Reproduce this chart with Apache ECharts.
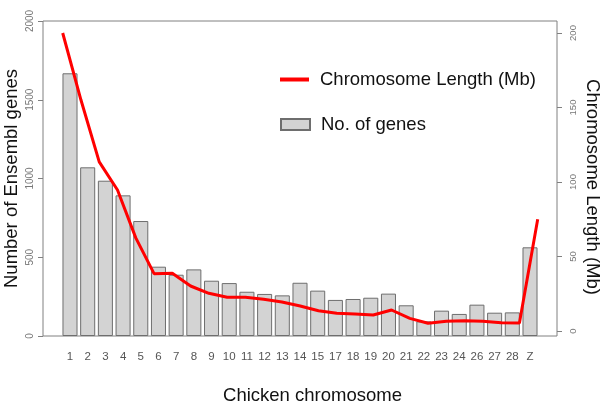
<!DOCTYPE html>
<html>
<head>
<meta charset="utf-8">
<script src="https://cdn.jsdelivr.net/npm/echarts@6/dist/echarts.min.js"></script>
<style>
html,body{margin:0;padding:0;background:#fff;}
#c{width:600px;height:407px;}
</style>
</head>
<body>
<div id="c"></div>
<script>
var categories = ['1','2','3','4','5','6','7','8','9','10','11','12','13','14','15','17','18','19','20','21','22','23','24','26','27','28','Z'];
var geneCounts = [1668,1071,986,893,730,440,389,423,351,336,281,267,258,338,288,229,235,243,269,195,93,161,140,199,148,150,563];
var chromLengthMb = [200,155,113.5,94.6,62.5,38.5,38.7,30.2,25.3,22.6,22.6,21.3,19.5,16.8,13.6,11.9,11.4,10.7,14.1,8.5,5.2,6.5,6.9,6.5,5.6,5.4,75];
var leftTicks = [0,500,1000,1500,2000];
var rightTicks = [0,50,100,150,200];

var FONT = 'Liberation Sans, Arial, sans-serif';
var NARROW = 'Liberation Sans Narrow, Arial Narrow, Liberation Sans, sans-serif';
var chart = echarts.init(document.getElementById('c'), null, {renderer:'canvas'});
var plain = function (v) { return String(v); };
var option = {
  backgroundColor:'#fff',
  animation:false,
  textStyle:{fontFamily:FONT},
  grid:[
    {left:61.15, right:61.15, top:21, bottom:71, outerBoundsMode:'none', containLabel:false},
    {left:62.7, right:62.3, top:33, bottom:76, outerBoundsMode:'none', containLabel:false},
    {left:43, right:43, top:21, bottom:71, outerBoundsMode:'none', containLabel:false, show:true, borderColor:'#808080', borderWidth:1, backgroundColor:'transparent'}
  ],
  legend:[
    {data:[{name:'Chromosome Length (Mb)', icon:'rect', itemStyle:{color:'#ff0000'}}],
     left:275, top:65, itemWidth:29, itemHeight:4, selectedMode:false,
     textStyle:{fontSize:18.5, color:'#111', fontFamily:FONT, padding:[0,0,0,6]}},
    {data:[{name:'No. of genes', icon:'rect'}],
     left:275, top:110, itemWidth:29, itemHeight:11, selectedMode:false,
     textStyle:{fontSize:18.5, color:'#111', fontFamily:FONT, padding:[0,0,0,6]}}
  ],
  xAxis:[
    {type:'category', gridIndex:0, data:categories,
     axisLine:{show:false}, axisTick:{show:false},
     axisLabel:{color:'#555', fontSize:11.5, margin:15, interval:0, fontFamily:NARROW},
     name:'Chicken chromosome', nameLocation:'middle', nameGap:50, nameMoveOverlap:false,
     nameTextStyle:{fontSize:18.5, color:'#111', fontFamily:FONT, padding:[0,0,0,25]}},
    {type:'category', gridIndex:1, data:categories, boundaryGap:false, show:false},
    {type:'value', gridIndex:2, show:false}
  ],
  yAxis:[
    {type:'value', gridIndex:0, min:leftTicks[0], max:leftTicks[leftTicks.length-1], interval:leftTicks[1]-leftTicks[0],
     position:'left', offset:18.15,
     axisLine:{show:false}, axisTick:{show:true, length:5, lineStyle:{color:'#808080'}},
     splitLine:{show:false},
     axisLabel:{rotate:90, color:'#777', fontSize:10, margin:8, fontFamily:FONT, formatter:plain},
     name:'Number of Ensembl genes', nameLocation:'middle', nameGap:22, nameRotate:90, nameMoveOverlap:false,
     nameTextStyle:{fontSize:18.5, color:'#111', fontFamily:FONT}},
    {type:'value', gridIndex:1, min:rightTicks[0], max:rightTicks[rightTicks.length-1], interval:rightTicks[1]-rightTicks[0],
     position:'right', offset:19.3,
     axisLine:{show:false}, axisTick:{show:true, length:5, lineStyle:{color:'#808080'}},
     splitLine:{show:false},
     axisLabel:{rotate:90, color:'#777', fontSize:9.5, margin:11, fontFamily:FONT, formatter:plain},
     name:'Chromosome Length (Mb)', nameLocation:'middle', nameGap:26, nameRotate:-90, nameMoveOverlap:false,
     nameTextStyle:{fontSize:18.5, color:'#111', fontFamily:FONT, padding:[0,0,0,10]}},
    {type:'value', gridIndex:2, show:false}
  ],
  series:[
    {name:'No. of genes', type:'bar', xAxisIndex:0, yAxisIndex:0, data:geneCounts,
     barCategoryGap:'15%',
     itemStyle:{color:'#d3d3d3', borderColor:'#6e6e6e', borderWidth:1}},
    {name:'Chromosome Length (Mb)', type:'line', xAxisIndex:1, yAxisIndex:1, data:chromLengthMb,
     symbol:'none', lineStyle:{color:'#ff0000', width:3}, itemStyle:{color:'#ff0000'}, z:5}
  ]
};
chart.setOption(option);
</script>
</body>
</html>
